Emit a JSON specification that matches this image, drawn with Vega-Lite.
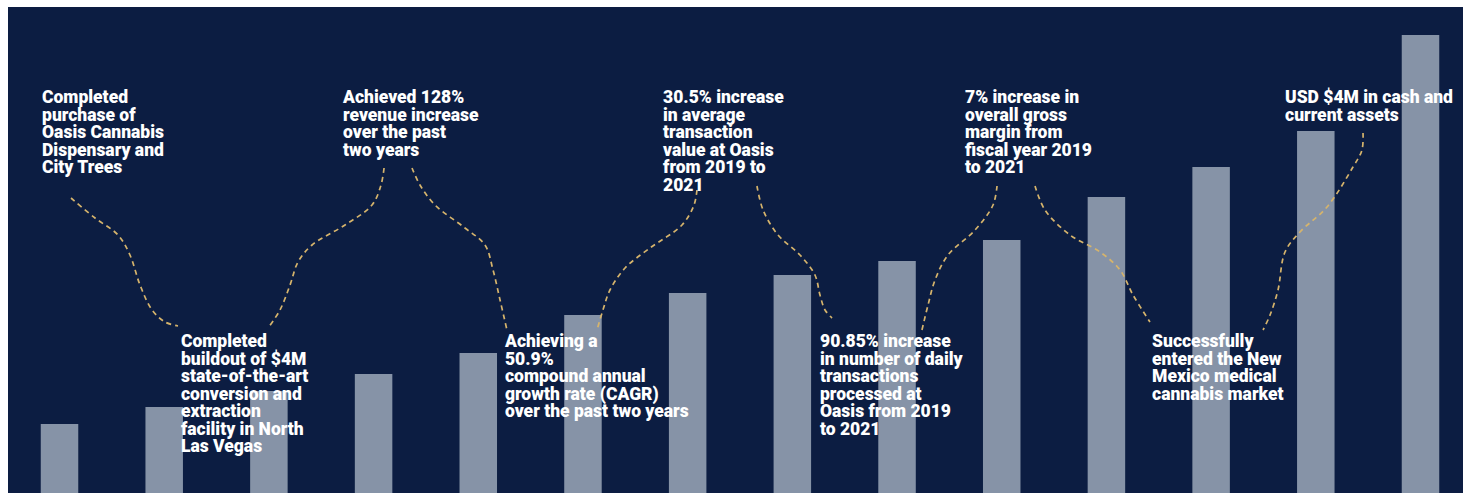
{
  "$schema": "https://vega.github.io/schema/vega-lite/v6.json",
  "width": 1455,
  "height": 486,
  "autosize": {"type": "none"},
  "padding": {"left": 8, "top": 7, "right": 0, "bottom": 2},
  "background": "#ffffff",
  "config": {"view": {"fill": "#0c1d42", "stroke": null}},
  "datasets": {
    "bars": [
      {"i": 1, "value": 69}, {"i": 2, "value": 86}, {"i": 3, "value": 102}, {"i": 4, "value": 119},
      {"i": 5, "value": 140}, {"i": 6, "value": 178}, {"i": 7, "value": 200}, {"i": 8, "value": 218},
      {"i": 9, "value": 232}, {"i": 10, "value": 253}, {"i": 11, "value": 296}, {"i": 12, "value": 326},
      {"i": 13, "value": 362}, {"i": 14, "value": 458}
    ],
    "curves": [
      {"c": "A", "k": 1, "x": 1.110, "v": 295}, {"c": "A", "k": 2, "x": 1.339, "v": 275}, {"c": "A", "k": 3, "x": 1.559, "v": 258},
      {"c": "A", "k": 4, "x": 1.673, "v": 238}, {"c": "A", "k": 5, "x": 1.769, "v": 208}, {"c": "A", "k": 6, "x": 1.884, "v": 183},
      {"c": "A", "k": 7, "x": 2.008, "v": 171}, {"c": "A", "k": 8, "x": 2.132, "v": 167},
      {"c": "B", "k": 1, "x": 4.100, "v": 325}, {"c": "B", "k": 2, "x": 4.071, "v": 308}, {"c": "B", "k": 3, "x": 3.985, "v": 288},
      {"c": "B", "k": 4, "x": 3.727, "v": 268}, {"c": "B", "k": 5, "x": 3.412, "v": 248}, {"c": "B", "k": 6, "x": 3.278, "v": 231},
      {"c": "B", "k": 7, "x": 3.202, "v": 208}, {"c": "B", "k": 8, "x": 3.106, "v": 183}, {"c": "B", "k": 9, "x": 2.992, "v": 165},
      {"c": "C", "k": 1, "x": 4.367, "v": 325}, {"c": "C", "k": 2, "x": 4.443, "v": 308}, {"c": "C", "k": 3, "x": 4.587, "v": 288},
      {"c": "C", "k": 4, "x": 4.873, "v": 265}, {"c": "C", "k": 5, "x": 5.064, "v": 248}, {"c": "C", "k": 6, "x": 5.141, "v": 223},
      {"c": "C", "k": 7, "x": 5.208, "v": 193}, {"c": "C", "k": 8, "x": 5.274, "v": 163},
      {"c": "D", "k": 1, "x": 7.089, "v": 303}, {"c": "D", "k": 2, "x": 7.061, "v": 288}, {"c": "D", "k": 3, "x": 6.946, "v": 268},
      {"c": "D", "k": 4, "x": 6.640, "v": 245}, {"c": "D", "k": 5, "x": 6.402, "v": 225}, {"c": "D", "k": 6, "x": 6.258, "v": 203},
      {"c": "D", "k": 7, "x": 6.191, "v": 183}, {"c": "D", "k": 8, "x": 6.134, "v": 163},
      {"c": "E", "k": 1, "x": 7.662, "v": 307}, {"c": "E", "k": 2, "x": 7.720, "v": 283}, {"c": "E", "k": 3, "x": 7.863, "v": 258},
      {"c": "E", "k": 4, "x": 8.073, "v": 238}, {"c": "E", "k": 5, "x": 8.216, "v": 218}, {"c": "E", "k": 6, "x": 8.264, "v": 198},
      {"c": "E", "k": 7, "x": 8.312, "v": 183}, {"c": "E", "k": 8, "x": 8.379, "v": 175},
      {"c": "F", "k": 1, "x": 9.955, "v": 307}, {"c": "F", "k": 2, "x": 9.917, "v": 288}, {"c": "F", "k": 3, "x": 9.745, "v": 263},
      {"c": "F", "k": 4, "x": 9.487, "v": 238}, {"c": "F", "k": 5, "x": 9.363, "v": 213}, {"c": "F", "k": 6, "x": 9.296, "v": 188},
      {"c": "F", "k": 7, "x": 9.238, "v": 163},
      {"c": "G", "k": 1, "x": 10.318, "v": 307}, {"c": "G", "k": 2, "x": 10.413, "v": 283}, {"c": "G", "k": 3, "x": 10.652, "v": 258},
      {"c": "G", "k": 4, "x": 10.939, "v": 241}, {"c": "G", "k": 5, "x": 11.130, "v": 223}, {"c": "G", "k": 6, "x": 11.254, "v": 198},
      {"c": "G", "k": 7, "x": 11.416, "v": 171},
      {"c": "H", "k": 1, "x": 13.451, "v": 360}, {"c": "H", "k": 2, "x": 13.441, "v": 343}, {"c": "H", "k": 3, "x": 13.355, "v": 326},
      {"c": "H", "k": 4, "x": 13.107, "v": 286}, {"c": "H", "k": 5, "x": 12.849, "v": 261}, {"c": "H", "k": 6, "x": 12.706, "v": 241},
      {"c": "H", "k": 7, "x": 12.639, "v": 203}, {"c": "H", "k": 8, "x": 12.563, "v": 178}, {"c": "H", "k": 9, "x": 12.496, "v": 163}
    ],
    "notes": [
      {"x": 0.833, "y": 404, "label": "Completed\npurchase of\nOasis Cannabis\nDispensary and\nCity Trees"},
      {"x": 2.160, "y": 160, "label": "Completed\nbuildout of $4M\nstate-of-the-art\nconversion and\nextraction\nfacility in North\nLas Vegas"},
      {"x": 3.708, "y": 404, "label": "Achieved 128%\nrevenue increase\nover the past\ntwo years"},
      {"x": 5.255, "y": 160, "label": "Achieving a\n50.9%\ncompound annual\ngrowth rate (CAGR)\nover the past two years"},
      {"x": 6.765, "y": 404, "label": "30.5% increase\nin average\ntransaction\nvalue at Oasis\nfrom 2019 to\n2021"},
      {"x": 8.264, "y": 160, "label": "90.85% increase\nin number of daily\ntransactions\nprocessed at\nOasis from 2019\nto 2021"},
      {"x": 9.649, "y": 404, "label": "7% increase in\noverall gross\nmargin from\nfiscal year 2019\nto 2021"},
      {"x": 11.436, "y": 160, "label": "Successfully\nentered the New\nMexico medical\ncannabis market"},
      {"x": 12.706, "y": 404, "label": "USD $4M in cash and\ncurrent assets"}
    ]
  },
  "layer": [
    {
      "data": {"name": "bars"},
      "mark": {"type": "bar", "orient": "vertical", "size": 37.5, "color": "#8693a7"},
      "encoding": {
        "x": {"field": "i", "type": "quantitative", "scale": {"domain": [0.508, 14.406], "nice": false, "zero": false, "padding": 0}, "axis": null},
        "y": {"field": "value", "type": "quantitative", "scale": {"domain": [0, 486], "nice": false, "padding": 0}, "axis": null}
      }
    },
    {
      "data": {"name": "curves"},
      "mark": {"type": "line", "interpolate": "catmull-rom", "color": "#d6b46c", "strokeWidth": 1.7, "strokeDash": [5, 4]},
      "encoding": {
        "x": {"field": "x", "type": "quantitative", "scale": {"domain": [0.508, 14.406], "nice": false, "zero": false, "padding": 0}, "axis": null},
        "y": {"field": "v", "type": "quantitative", "scale": {"domain": [0, 486], "nice": false, "padding": 0}, "axis": null},
        "detail": {"field": "c"},
        "order": {"field": "k", "type": "quantitative"}
      }
    },
    {
      "data": {"name": "notes"},
      "mark": {"type": "text", "align": "left", "baseline": "top", "font": "Roboto", "fontWeight": 900, "fontSize": 17.5, "lineHeight": 17.5, "lineBreak": "\n", "color": "#ffffff"},
      "encoding": {
        "x": {"field": "x", "type": "quantitative", "scale": {"domain": [0.508, 14.406], "nice": false, "zero": false, "padding": 0}, "axis": null},
        "y": {"field": "y", "type": "quantitative", "scale": {"domain": [0, 486], "nice": false, "padding": 0}, "axis": null},
        "text": {"field": "label"}
      }
    }
  ]
}
